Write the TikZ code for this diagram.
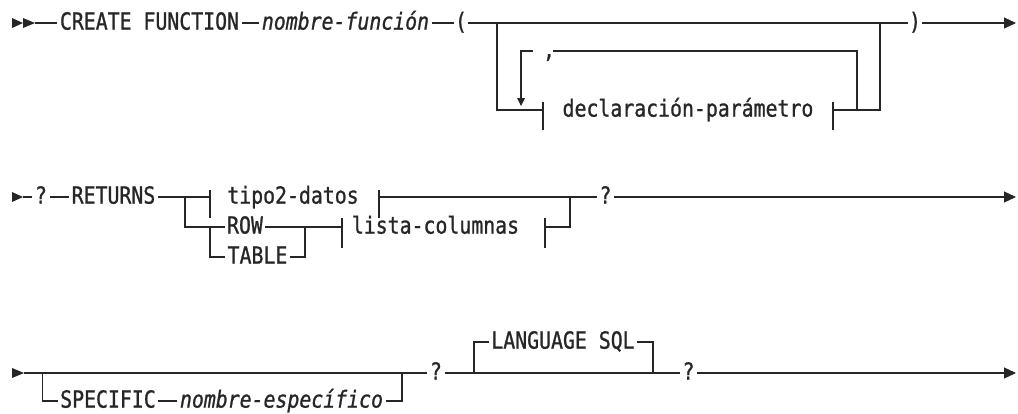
\documentclass[tikz,border=0pt]{standalone}
\usepackage{fontspec}
\newfontfamily\rrfont[FakeStretch=0.844,FakeBold=1]{DejaVu Sans Mono}
\usetikzlibrary{arrows.meta}
\begin{document}
\begin{tikzpicture}[x=1pt,y=-1pt,
  line width=1.1pt, draw=black!85,
  txt/.style={font={\rrfont\fontsize{23.5}{25}\selectfont}, text=black!85, inner xsep=2pt, inner ysep=0pt, text height=16.2pt, text depth=3pt},
  itx/.style={txt, font={\rrfont\itshape\fontsize{23.5}{25}\selectfont}},
  endarrow/.style={-{Triangle[length=12pt,width=11pt]}},
  tri/.style={fill=black!85, draw=none}]
\useasboundingbox (0,0) rectangle (1018,413);

% ---------- line 1 ----------
\fill[tri] (12,18) -- (23,23) -- (12,28) -- cycle;
\fill[tri] (23,18) -- (35,23) -- (23,28) -- cycle;
\coordinate (s1) at (35,23);
\coordinate (e1) at (1016,23);
\node[txt] (cf) at (149.5,23) {CREATE FUNCTION};
\node[itx] (nf) at (345.5,23) {nombre-función};
\node[txt,inner xsep=0pt] (lp) at (461,23) {(};
\node[txt,inner xsep=0pt] (rp) at (915,23) {)};
\node[txt] (dp) at (688,110) {declaración-parámetro};
\node[txt] (cm) at (549,51) {,};
\coordinate (b1) at (543,110);
\coordinate (b2) at (833,110);
\draw (s1) -- (cf);
\draw (cf) -- (nf);
\draw (nf) -- (lp);
\draw (lp) -- (rp);
\draw[endarrow] (rp) -- (e1);
\draw (497,23) |- (b1);
\draw (543,102) -- (543,130);
\draw (833,102) -- (833,130);
\draw (b2) -| (880,23);
\draw (857,110) |- (553,51);
\draw (533,51) -| (521,98);
\fill[tri] (517,98) -- (525,98) -- (521,106) -- cycle;

% ---------- line 2 ----------
\fill[tri] (12,192) -- (23,197) -- (12,202) -- cycle;
\coordinate (s2) at (23,197);
\coordinate (e2) at (1016,197);
\node[txt] (q1) at (41,197) {?};
\node[txt] (ret) at (113.5,197) {RETURNS};
\node[txt] (td) at (293,197) {tipo2-datos};
\node[txt] (row) at (245,227) {ROW};
\node[txt] (tab) at (257.5,257) {TABLE};
\node[txt] (lc) at (435.5,227) {lista-columnas};
\node[txt] (q2) at (605.5,197) {?};
\draw (s2) -- (q1);
\draw (q1) -- (ret);
\draw (ret) -- (210,197);
\draw (210,190) -- (210,218);
\draw (379,190) -- (379,218);
\draw (379,197) -- (q2);
\draw[endarrow] (q2) -- (e2);
\draw (185,197) |- (row);
\draw (210,227) |- (tab);
\draw (row) -- (342,227);
\draw (tab) -| (305,227);
\draw (342,218) -- (342,248);
\draw (545,218) -- (545,248);
\draw (545,227) -| (570,197);

% ---------- line 3 ----------
\fill[tri] (12,368) -- (24,373) -- (12,378) -- cycle;
\coordinate (s3) at (24,373);
\coordinate (e3) at (1016,373);
\node[txt] (sp) at (108,401) {SPECIFIC};
\node[itx] (ns) at (281.5,401) {nombre-específico};
\node[txt] (q3) at (436,373) {?};
\node[txt] (ls) at (563,342) {LANGUAGE SQL};
\node[txt] (q4) at (688.5,373) {?};
\draw (s3) -- (q3);
\draw (42.7,373) |- (sp);
\draw (sp) -- (ns);
\draw (ns) -| (402,373);
\draw (q3) -- (q4);
\draw (474,373) |- (ls);
\draw (ls) -| (653,373);
\draw[endarrow] (q4) -- (e3);
\end{tikzpicture}
\end{document}
